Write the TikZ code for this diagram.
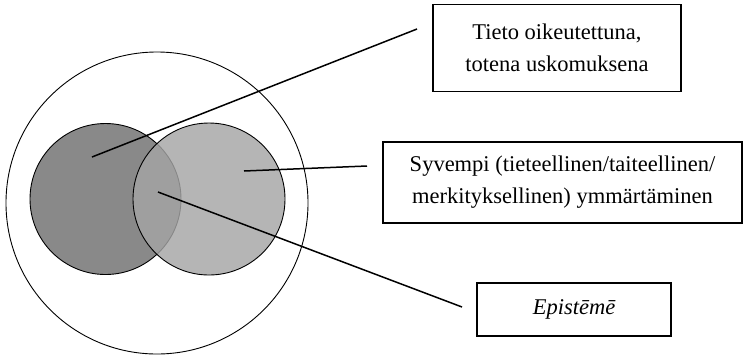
\documentclass[tikz,border=0pt]{standalone}
\usepackage{fontspec}
\setmainfont{Liberation Serif}
\begin{document}
\begin{tikzpicture}[x=1pt,y=-1pt,
  ring/.style={circle,draw=black,line width=0.9pt,inner sep=0pt},
  labelbox/.style={draw=black,line width=1.9pt,inner sep=0pt,align=center,
    font=\fontsize{22.5}{32}\selectfont},
  pointer/.style={draw=black,line width=1.5pt}]
  \useasboundingbox (0,0) rectangle (743,357);
  \definecolor{darkset}{RGB}{137,137,137}
  \definecolor{lightset}{RGB}{165,165,165}

  % outer circle and the two overlapping sets
  \node[ring,minimum size=302pt] (outer) at (157,203) {};
  \node[ring,fill=darkset,minimum size=151pt] (tieto) at (105.5,199) {};
  \node[ring,fill=lightset,fill opacity=0.82,minimum size=152pt] (syvempi) at (209,199) {};

  % label boxes
  \node[labelbox,minimum width=248pt,minimum height=87pt] (b1) at (557,48)
    {Tieto oikeutettuna,\\totena uskomuksena};
  \node[labelbox,minimum width=359pt,minimum height=81pt] (b2) at (562.5,182.5)
    {Syvempi (tieteellinen/taiteellinen/\\merkityksellinen) ymmärtäminen};
  \node[labelbox,minimum width=194pt,minimum height=53pt] (b3) at (574,309.5)
    {\itshape Epistēmē};

  % pointer lines
  \coordinate (p1) at (92,157);
  \coordinate (p2) at (244,171);
  \coordinate (p3) at (158,192);
  \coordinate (e1) at (417,29);
  \coordinate (e2) at (367,166);
  \coordinate (e3) at (462,307);
  \draw[pointer] (p1) -- (e1);
  \draw[pointer] (p2) -- (e2);
  \draw[pointer] (p3) -- (e3);
\end{tikzpicture}
\end{document}
